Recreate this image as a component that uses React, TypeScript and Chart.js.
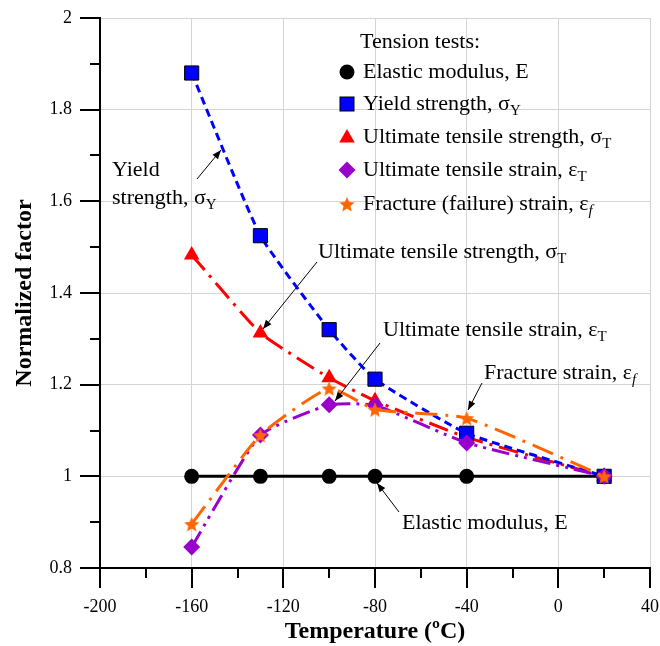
import React, { useEffect, useRef } from 'react';
import { Chart, registerables } from 'chart.js';

Chart.register(...registerables);

// ---- data ----
const temperatures = [-160, -130, -100, -80, -40, 20];
const elasticModulus = [1, 1, 1, 1, 1, 1];
const yieldStrength = [1.88, 1.525, 1.32, 1.212, 1.094, 1.0];
const ultimateStrength = [1.483, 1.313, 1.215, 1.165, 1.085, 1.0];
const ultimateStrain = [0.846, 1.09, 1.156, 1.155, 1.073, 1.0];
const fractureStrain = [0.896, 1.09, 1.192, 1.146, 1.127, 1.0];
const xTicks = [-200, -160, -120, -80, -40, 0, 40];
const yTicks = [0.8, 1, 1.2, 1.4, 1.6, 1.8, 2];
const xTitle = 'Temperature (ºC)';
const yTitle = 'Normalized factor';
const legendTitle = 'Tension tests:';

const FONT = '"Liberation Serif", "Times New Roman", serif';
const BLUE = '#0000FF';
const RED = '#FF0000';
const PURPLE = '#9900CC';
const ORANGE = '#FF6600';
const TENSION = 0.15;

type Part = { t: string; sub?: boolean; italic?: boolean };

function makeStar(r: number, color: string) {
  const c = document.createElement('canvas');
  const s = Math.ceil(r * 2 + 2);
  c.width = s;
  c.height = s;
  const g = c.getContext('2d')!;
  g.fillStyle = color;
  g.beginPath();
  for (let i = 0; i < 10; i++) {
    const rad = i % 2 === 0 ? r : r * 0.45;
    const ang = -Math.PI / 2 + (i * Math.PI) / 5;
    const px = s / 2 + rad * Math.cos(ang);
    const py = s / 2 + 1 + rad * Math.sin(ang);
    if (i === 0) g.moveTo(px, py);
    else g.lineTo(px, py);
  }
  g.closePath();
  g.fill();
  return c;
}

function drawRich(ctx: CanvasRenderingContext2D, x: number, y: number, parts: Part[], size: number) {
  let cx = x;
  ctx.textAlign = 'left';
  ctx.textBaseline = 'middle';
  ctx.fillStyle = '#000';
  for (const p of parts) {
    const fs = p.sub ? size * 0.68 : size;
    ctx.font = `${p.italic ? 'italic ' : ''}${fs}px ${FONT}`;
    const dy = p.sub ? size * 0.3 : 0;
    ctx.fillText(p.t, cx, y + dy);
    cx += ctx.measureText(p.t).width;
  }
}

function arrow(ctx: CanvasRenderingContext2D, x1: number, y1: number, x2: number, y2: number) {
  ctx.strokeStyle = '#000';
  ctx.fillStyle = '#000';
  ctx.lineWidth = 1;
  ctx.setLineDash([]);
  ctx.beginPath();
  ctx.moveTo(x1, y1);
  ctx.lineTo(x2, y2);
  ctx.stroke();
  const a = Math.atan2(y2 - y1, x2 - x1);
  const L = 9;
  const W = 3.5;
  ctx.beginPath();
  ctx.moveTo(x2, y2);
  ctx.lineTo(x2 - L * Math.cos(a) + W * Math.sin(a), y2 - L * Math.sin(a) - W * Math.cos(a));
  ctx.lineTo(x2 - L * Math.cos(a) - W * Math.sin(a), y2 - L * Math.sin(a) + W * Math.cos(a));
  ctx.closePath();
  ctx.fill();
}

export default function App() {
  const ref = useRef<HTMLCanvasElement | null>(null);

  useEffect(() => {
    document.body.style.margin = '0';
    const canvas = ref.current;
    if (!canvas) return;
    const star = makeStar(8, ORANGE);

    const pts = (vals: number[]) => temperatures.map((x, i) => ({ x, y: vals[i] }));

    const overlay = {
      id: 'overlay',
      afterDraw(chart: any) {
        const ctx: CanvasRenderingContext2D = chart.ctx;
        const ca = chart.chartArea;
        const xs = chart.scales.x;
        const ys = chart.scales.y;
        ctx.save();
        // tick marks (major + minor)
        ctx.strokeStyle = '#000';
        ctx.lineWidth = 2;
        ctx.setLineDash([]);
        for (let v = -200; v <= 40; v += 20) {
          const px = Math.round(xs.getPixelForValue(v));
          const len = (v + 200) % 40 === 0 ? 20 : 10;
          ctx.beginPath();
          ctx.moveTo(px, ca.bottom);
          ctx.lineTo(px, ca.bottom + len);
          ctx.stroke();
        }
        for (let k = 0; k <= 12; k++) {
          const v = 0.8 + k * 0.1;
          const py = Math.round(ys.getPixelForValue(v));
          const len = k % 2 === 0 ? 20 : 10;
          ctx.beginPath();
          ctx.moveTo(ca.left - len, py);
          ctx.lineTo(ca.left, py);
          ctx.stroke();
        }
        // tick labels
        ctx.fillStyle = '#000';
        ctx.font = `18px ${FONT}`;
        ctx.textBaseline = 'middle';
        ctx.textAlign = 'center';
        for (const v of xTicks) {
          ctx.fillText(String(v), xs.getPixelForValue(v), ca.bottom + 39);
        }
        ctx.textAlign = 'right';
        for (const v of yTicks) {
          ctx.fillText(String(Number(v.toFixed(1))), ca.left - 28, ys.getPixelForValue(v));
        }
        // axis titles
        ctx.font = `bold 24px ${FONT}`;
        ctx.textAlign = 'center';
        ctx.textBaseline = 'middle';
        ctx.fillText(xTitle, (ca.left + ca.right) / 2, 632);
        ctx.save();
        ctx.translate(25, (ca.top + ca.bottom) / 2);
        ctx.rotate(-Math.PI / 2);
        ctx.fillText(yTitle, 0, 0);
        ctx.restore();

        // legend
        const size = 22;
        drawRich(ctx, 360, 42, [{ t: legendTitle }], size);
        const rows: { y: number; parts: Part[]; mark: string }[] = [
          { y: 72, parts: [{ t: 'Elastic modulus, E' }], mark: 'circle' },
          { y: 104, parts: [{ t: 'Yield strength, σ' }, { t: 'Y', sub: true }], mark: 'square' },
          { y: 137, parts: [{ t: 'Ultimate tensile strength, σ' }, { t: 'T', sub: true }], mark: 'triangle' },
          { y: 170, parts: [{ t: 'Ultimate tensile strain, ε' }, { t: 'T', sub: true }], mark: 'diamond' },
          { y: 204, parts: [{ t: 'Fracture (failure) strain, ε' }, { t: 'f', sub: true, italic: true }], mark: 'star' },
        ];
        const mx = 347;
        for (const r of rows) {
          ctx.setLineDash([]);
          if (r.mark === 'circle') {
            ctx.fillStyle = '#000';
            ctx.beginPath();
            ctx.arc(mx, r.y, 7.5, 0, Math.PI * 2);
            ctx.fill();
          } else if (r.mark === 'square') {
            ctx.fillStyle = BLUE;
            ctx.fillRect(mx - 7, r.y - 7, 14, 14);
            ctx.strokeStyle = '#000';
            ctx.lineWidth = 1;
            ctx.strokeRect(mx - 7, r.y - 7, 14, 14);
          } else if (r.mark === 'triangle') {
            ctx.fillStyle = RED;
            ctx.beginPath();
            const rr = 9;
            for (let i = 0; i < 3; i++) {
              const ang = -Math.PI / 2 + (i * 2 * Math.PI) / 3;
              const px = mx + rr * Math.cos(ang);
              const py = r.y + 1 + rr * Math.sin(ang);
              if (i === 0) ctx.moveTo(px, py);
              else ctx.lineTo(px, py);
            }
            ctx.closePath();
            ctx.fill();
          } else if (r.mark === 'diamond') {
            ctx.fillStyle = PURPLE;
            ctx.beginPath();
            ctx.moveTo(mx, r.y - 8.5);
            ctx.lineTo(mx + 8.5, r.y);
            ctx.lineTo(mx, r.y + 8.5);
            ctx.lineTo(mx - 8.5, r.y);
            ctx.closePath();
            ctx.fill();
          } else {
            ctx.drawImage(star, mx - star.width / 2, r.y - star.height / 2);
          }
          drawRich(ctx, 363, r.y, r.parts, size);
        }

        // annotations
        drawRich(ctx, 112, 170, [{ t: 'Yield' }], size);
        drawRich(ctx, 112, 198, [{ t: 'strength, σ' }, { t: 'Y', sub: true }], size);
        arrow(ctx, 197, 179, 221, 150);
        drawRich(ctx, 318, 252, [{ t: 'Ultimate tensile strength, σ' }, { t: 'T', sub: true }], size);
        arrow(ctx, 317, 262, 263, 329);
        drawRich(ctx, 383, 330, [{ t: 'Ultimate tensile strain, ε' }, { t: 'T', sub: true }], size);
        arrow(ctx, 380, 343, 335, 401);
        drawRich(ctx, 484, 373, [{ t: 'Fracture strain, ε' }, { t: 'f', sub: true, italic: true }], size);
        arrow(ctx, 482, 383, 468, 410);
        drawRich(ctx, 402, 523, [{ t: 'Elastic modulus, E' }], size);
        arrow(ctx, 399, 512, 377, 483);
        ctx.restore();
      },
    };

    const chart = new Chart(canvas, {
      type: 'line',
      data: {
        datasets: [
          {
            label: 'Fracture (failure) strain, εf',
            data: pts(fractureStrain),
            borderColor: ORANGE,
            borderWidth: 3,
            borderDash: [22, 8, 3, 8],
            pointStyle: star as any,
            pointRadius: 8,
            pointBackgroundColor: ORANGE,
            pointBorderWidth: 0,
            tension: TENSION,
            order: 0,
          },
          {
            label: 'Ultimate tensile strain, εT',
            data: pts(ultimateStrain),
            borderColor: PURPLE,
            borderWidth: 3,
            borderDash: [18, 6, 3, 6, 3, 6],
            pointStyle: 'rectRot',
            pointRadius: 8.5,
            pointBackgroundColor: PURPLE,
            pointBorderWidth: 0,
            tension: TENSION,
            order: 1,
          },
          {
            label: 'Yield strength, σY',
            data: pts(yieldStrength),
            borderColor: BLUE,
            borderWidth: 3,
            borderDash: [8, 5],
            pointStyle: 'rect',
            pointRadius: 10,
            pointBackgroundColor: BLUE,
            pointBorderColor: '#000',
            pointBorderWidth: 1,
            tension: TENSION,
            order: 2,
          },
          {
            label: 'Ultimate tensile strength, σT',
            data: pts(ultimateStrength),
            borderColor: RED,
            borderWidth: 3,
            borderDash: [20, 7, 3, 7],
            pointStyle: 'triangle',
            pointRadius: 9,
            pointBackgroundColor: RED,
            pointBorderWidth: 0,
            tension: TENSION,
            order: 3,
          },
          {
            label: 'Elastic modulus, E',
            data: pts(elasticModulus),
            borderColor: '#000',
            borderWidth: 3,
            pointStyle: 'circle',
            pointRadius: 7.5,
            pointBackgroundColor: '#000',
            pointBorderWidth: 0,
            tension: 0,
            order: 4,
          },
        ],
      },
      options: {
        responsive: false,
        animation: false,
        devicePixelRatio: 1,
        layout: { autoPadding: false, padding: { left: 0, right: 10, top: 18, bottom: 0 } },
        plugins: {
          legend: { display: false },
          tooltip: { enabled: false },
        },
        scales: {
          x: {
            type: 'linear',
            min: -200,
            max: 40,
            afterBuildTicks: (s: any) => {
              s.ticks = xTicks.map((v) => ({ value: v }));
            },
            afterFit: (s: any) => {
              s.height = 78;
            },
            ticks: { display: false },
            grid: { color: '#d4d4d4', lineWidth: 1, drawTicks: false },
            border: { display: true, color: '#000', width: 2 },
          },
          y: {
            type: 'linear',
            min: 0.8,
            max: 2,
            afterBuildTicks: (s: any) => {
              s.ticks = yTicks.map((v) => ({ value: v }));
            },
            afterFit: (s: any) => {
              s.width = 100;
            },
            ticks: { display: false },
            grid: { color: '#d4d4d4', lineWidth: 1, drawTicks: false },
            border: { display: true, color: '#000', width: 2 },
          },
        },
      },
      plugins: [overlay],
    } as any);

    return () => chart.destroy();
  }, []);

  return (
    <div style={{ width: 660, height: 646, background: '#fff' }}>
      <canvas ref={ref} width={660} height={646} style={{ display: 'block' }} />
    </div>
  );
}
